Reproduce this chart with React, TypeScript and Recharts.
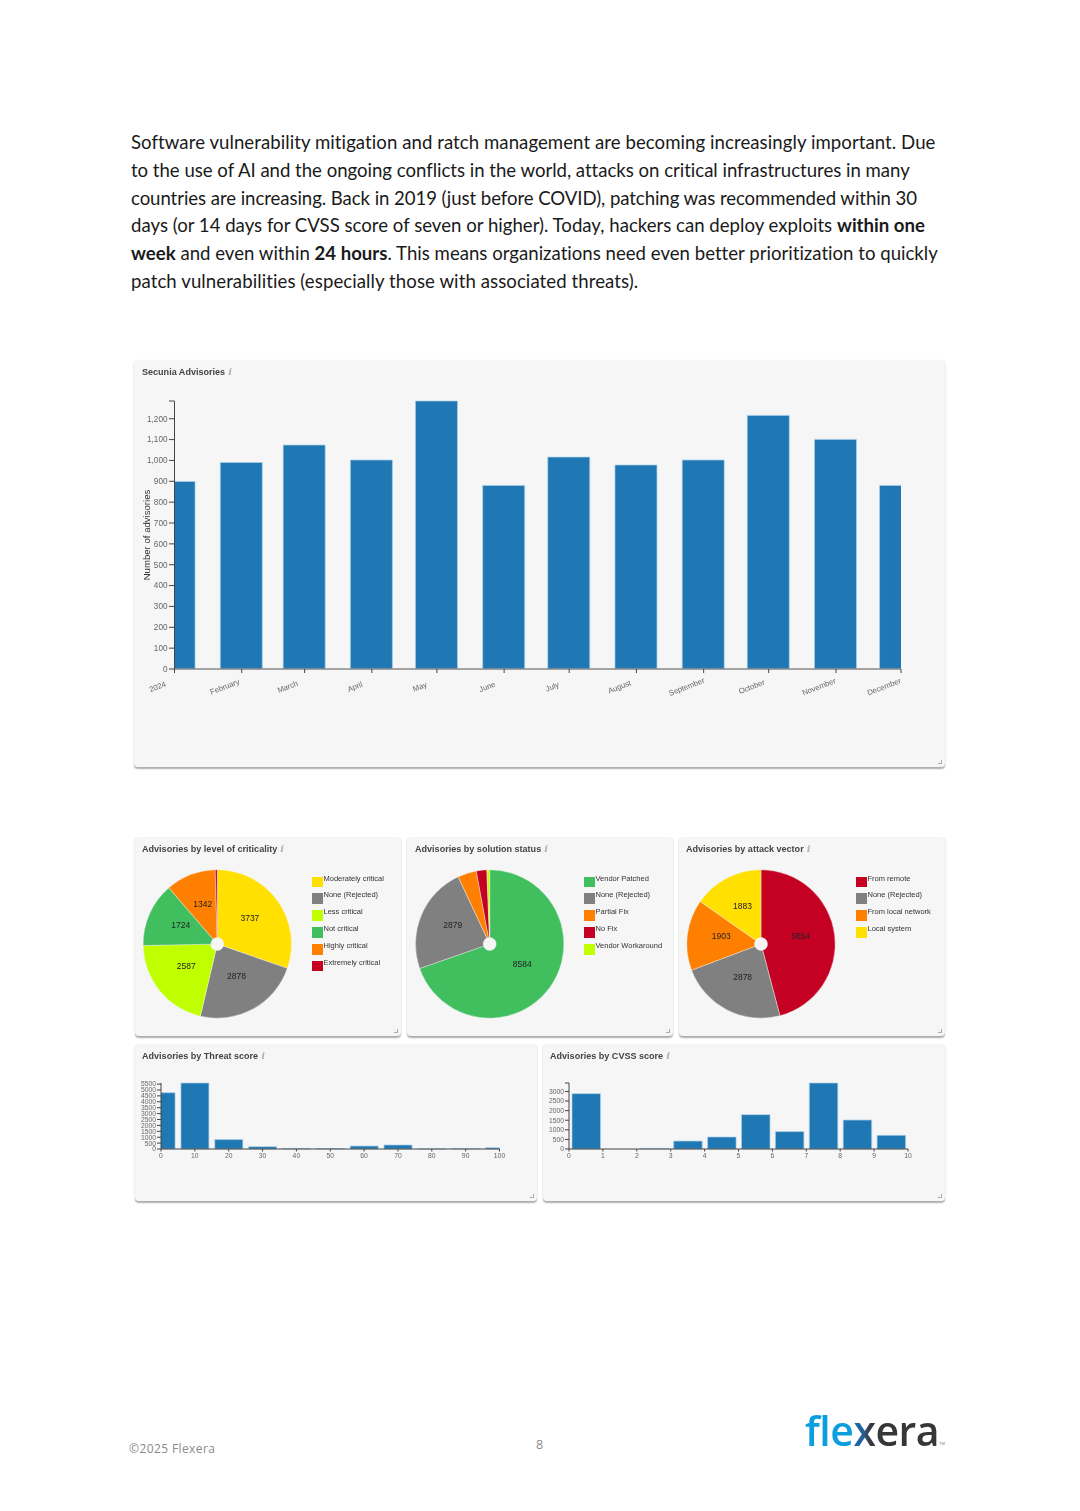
import React from "react";
import { BarChart, Bar, XAxis, YAxis, PieChart, Pie, Legend, Label } from "recharts";

const monthLabels = ["2024","February","March","April","May","June","July","August","September","October","November","December"];
const monthDays = [0,31,60,91,121,152,182,213,244,274,305,335];
const monthValues = [899,990,1074,1002,1285,880,1016,978,1002,1216,1101,880];
const monthTicks = [0,100,200,300,400,500,600,700,800,900,1000,1100,1200,1285];

const criticalityNames = ["Moderately critical","None (Rejected)","Less critical","Not critical","Highly critical","Extremely critical"];
const criticalityValues = [3737,2878,2587,1724,1342,55];
const criticalityColors = ["#ffe000","#808080","#bfff00","#41bf5f","#ff8000","#c40023"];

const solutionNames = ["Vendor Patched","None (Rejected)","Partial Fix","No Fix","Vendor Workaround"];
const solutionValues = [8584,2879,505,280,76];
const solutionColors = ["#41bf5f","#808080","#ff8000","#c40023","#bfff00"];

const vectorNames = ["From remote","None (Rejected)","From local network","Local system"];
const vectorValues = [5654,2878,1903,1883];
const vectorColors = ["#c40023","#808080","#ff8000","#ffe000"];

const threatBins = [0,10,20,30,40,50,60,70,80,90,100];
const threatValues = [4765,5590,795,200,50,40,250,340,10,30,110];
const threatTicks = [0,500,1000,1500,2000,2500,3000,3500,4000,4500,5000,5500];

const cvssBins = [0.5,1.5,2.5,3.5,4.5,5.5,6.5,7.5,8.5,9.5];
const cvssValues = [2885,0,30,415,625,1790,906,3440,1510,713];
const cvssTicks = [0,500,1000,1500,2000,2500,3000,3440];
const cvssXTicks = [0,1,2,3,4,5,6,7,8,9,10];

const paragraphLines: [string, boolean][][] = [
  [["Software vulnerability mitigation and ratch management are becoming increasingly important. Due", false]],
  [["to the use of AI and the ongoing conflicts in the world, attacks on critical infrastructures in many", false]],
  [["countries are increasing. Back in 2019 (just before COVID), patching was recommended within 30", false]],
  [["days (or 14 days for CVSS score of seven or higher). Today, hackers can deploy exploits ", false], ["within one", true]],
  [["week", true], [" and even within ", false], ["24 hours", true], [". This means organizations need even better prioritization to quickly", false]],
  [["patch vulnerabilities (especially those with associated threats).", false]],
];
const paragraphTops = [130.5, 158.5, 186.5, 213.5, 241.5, 269.5];
const paragraphTracking = [0.065, -0.02, -0.065, 0.01, 0.01, 0.08];

const SANS = "'Liberation Sans', Arial, sans-serif";
const PANEL_BG = "#f6f6f6";
const BAR = "#1f77b4";
const BAR_EDGE = "#a9cfe8";
const SOFT = "blur(0.3px)";

function Panel({ left, top, width, height, title, titleLeft = 7, children }: any) {
  return (
    <div style={{ position: "absolute", left, top, width, height, background: PANEL_BG, borderRadius: 4, boxShadow: "0 1.5px 1.5px rgba(0,0,0,0.32)" }}>
      <div style={{ position: "absolute", left: titleLeft, top: 6, fontFamily: SANS, fontSize: 9.05, fontWeight: 700, color: "#444", whiteSpace: "nowrap", lineHeight: "11px", filter: SOFT }}>
        {title}
        <span style={{ color: "#b5b5b5", fontStyle: "italic", fontSize: 10, marginLeft: 3, fontFamily: "'DejaVu Serif', serif" }}>i</span>
      </div>
      <div style={{ position: "absolute", left: 0, top: 0, filter: SOFT }}>{children}</div>
      <div style={{ position: "absolute", right: 3, bottom: 3, width: 3, height: 3, borderRight: "1px solid #aaa", borderBottom: "1px solid #aaa" }} />
    </div>
  );
}

function pieTable(names: string[], values: number[], colors: string[]) {
  return names.map((name, i) => ({ name, value: values[i], fill: colors[i] }));
}

const RAD = Math.PI / 180;
function sliceLabel(p: any) {
  if (p.value < 1000) return null;
  const r = 40;
  const x = p.cx + r * Math.cos(-p.midAngle * RAD);
  const y = p.cy + r * Math.sin(-p.midAngle * RAD);
  return (
    <text x={x} y={y} textAnchor="middle" fontFamily={SANS} fontSize={8.5} fill="#222">
      {p.value}
    </text>
  );
}

function legendContent({ payload }: any) {
  return (
    <div>
      {(payload || []).map((it: any) => (
        <div key={it.value} style={{ position: "relative", height: 16.9, fontFamily: SANS, fontSize: 7.5, color: "#333", whiteSpace: "nowrap" }}>
          <span style={{ position: "absolute", left: 0, top: 1.5, width: 10.5, height: 10.5, background: it.color }} />
          <span style={{ position: "absolute", left: 11.5, top: -1.5, lineHeight: "9px" }}>{it.value}</span>
        </div>
      ))}
    </div>
  );
}

function PieBlock({ left, title, titleLeft, data, cx }: any) {
  return (
    <Panel left={left} top={837} width={266} height={199} title={title} titleLeft={titleLeft}>
      <PieChart width={266} height={199} margin={{ top: 0, right: 0, bottom: 0, left: 0 }}>
        <Pie
          data={data}
          dataKey="value"
          nameKey="name"
          cx={cx}
          cy={107}
          outerRadius={74.2}
          innerRadius={6.5}
          startAngle={90}
          endAngle={-270}
          stroke="#f6f6f6"
          strokeWidth={0.4}
          label={sliceLabel}
          labelLine={false}
          isAnimationActive={false}
        />
        <Legend content={legendContent} itemSorter={null} layout="vertical" wrapperStyle={{ position: "absolute", left: 177, top: 38, width: 85, height: 110 }} />
      </PieChart>
    </Panel>
  );
}

const monthRows = monthLabels.map((m, i) => ({ day: monthDays[i], value: monthValues[i] }));
const threatRows = threatBins.map((b, i) => ({ bin: b, value: threatValues[i] }));
const cvssRows = cvssBins.map((b, i) => ({ bin: b, value: cvssValues[i] }));

const axisLine = { stroke: "#444", strokeWidth: 1 };
const tickLine = { stroke: "#444", strokeWidth: 1 };

function MonthTick({ x, y, payload }: any) {
  const tx = x - 16;
  const ty = y + 13.2;
  return (
    <text x={tx} y={ty} textAnchor="middle" transform={`rotate(-21 ${tx} ${ty})`} fontFamily={SANS} fontSize={7.7} fill="#666">
      {monthLabels[monthDays.indexOf(payload.value)]}
    </text>
  );
}

function SmallBars({ left, title, titleLeft, rows, xDomain, xTicks, yTicks, yMax, barSize, plotLeft, plotWidth }: any) {
  return (
    <Panel left={left} top={1044} width={402} height={157} title={title} titleLeft={titleLeft}>
      <BarChart
        width={402}
        height={157}
        data={rows}
        margin={{ top: 39, left: plotLeft - 25, right: 402 - plotLeft - plotWidth, bottom: 157 - 105 - 20 }}
      >
        <XAxis dataKey="bin" type="number" domain={xDomain} ticks={xTicks} interval={0} allowDataOverflow height={20} tick={{ fontSize: 6.8, fill: "#666", fontFamily: SANS }} tickSize={2.5} tickMargin={2} axisLine={axisLine} tickLine={tickLine} />
        <YAxis width={25} type="number" domain={[0, yMax]} ticks={yTicks} interval={0} tickFormatter={(v: number) => (v === yMax ? "" : String(v))} tick={{ fontSize: 6.8, fill: "#666", fontFamily: SANS }} tickSize={4} tickMargin={1} axisLine={axisLine} tickLine={tickLine} />
        <Bar dataKey="value" barSize={barSize} fill={BAR} stroke={BAR_EDGE} strokeWidth={0.7} isAnimationActive={false} />
      </BarChart>
    </Panel>
  );
}

export default function App() {
  return (
    <div style={{ position: "absolute", left: 0, top: 0, width: 1080, height: 1511, background: "#fff", overflow: "hidden" }}>
      {paragraphLines.map((segs, i) => (
        <div key={i} style={{ position: "absolute", left: 131, top: paragraphTops[i], fontFamily: "Lato, sans-serif", fontSize: 18.6, lineHeight: "22px", color: "#1a1a1a", whiteSpace: "nowrap", fontVariantLigatures: "none", letterSpacing: paragraphTracking[i] }}>
          {segs.map(([t, b], j) => (
            <span key={j} style={{ fontWeight: b ? 700 : 400 }}>{t}</span>
          ))}
        </div>
      ))}

      <Panel left={134} top={360} width={811} height={407} title="Secunia Advisories" titleLeft={8}>
        <BarChart width={811} height={407} data={monthRows} margin={{ top: 41, left: 10.5, right: 44, bottom: 58 }}>
          <XAxis
            dataKey="day"
            type="number"
            domain={[0, 335]}
            ticks={monthDays}
            interval={0}
            allowDataOverflow
            height={40}
            tick={MonthTick}
            tickSize={4}
            tickMargin={3}
            axisLine={{ stroke: "#888", strokeWidth: 1.6 }}
            tickLine={tickLine}
          />
          <YAxis
            width={30}
            type="number"
            domain={[0, 1285]}
            ticks={monthTicks}
            interval={0}
            tickFormatter={(v: number) => (v === 1285 ? "" : v.toLocaleString("en-US"))}
            tick={{ fontSize: 8.2, fill: "#666", fontFamily: SANS }}
            tickSize={5.5}
            tickMargin={1.5}
            axisLine={axisLine}
            tickLine={tickLine}
          >
            <Label value="Number of advisories" angle={-90} position="insideLeft" offset={2} style={{ textAnchor: "middle", fontSize: 9.6, fontFamily: SANS, fill: "#333" }} />
          </YAxis>
          <Bar dataKey="value" barSize={42} fill={BAR} stroke={BAR_EDGE} strokeWidth={0.7} isAnimationActive={false} />
        </BarChart>
      </Panel>

      <PieBlock left={135} title="Advisories by level of criticality" titleLeft={7} data={pieTable(criticalityNames, criticalityValues, criticalityColors)} cx={82.3} />
      <PieBlock left={407} title="Advisories by solution status" titleLeft={8} data={pieTable(solutionNames, solutionValues, solutionColors)} cx={82.7} />
      <PieBlock left={679} title="Advisories by attack vector" titleLeft={7} data={pieTable(vectorNames, vectorValues, vectorColors)} cx={82} />

      <SmallBars left={135} title="Advisories by Threat score" titleLeft={7} rows={threatRows} xDomain={[0, 100]} xTicks={threatBins} yTicks={threatTicks} yMax={5590} barSize={28} plotLeft={26} plotWidth={338.5} />
      <SmallBars left={543} title="Advisories by CVSS score" titleLeft={7} rows={cvssRows} xDomain={[0, 10]} xTicks={cvssXTicks} yTicks={cvssTicks} yMax={3440} barSize={28.5} plotLeft={26} plotWidth={339} />

      <div style={{ position: "absolute", left: 129, top: 1440, fontFamily: "'Open Sans', sans-serif", fontSize: 12, color: "#8a8a8a", letterSpacing: 0.4 }}>©2025 Flexera</div>
      <div style={{ position: "absolute", left: 536, top: 1436, fontFamily: "'Open Sans', sans-serif", fontSize: 12.5, color: "#8a8a8a" }}>8</div>
      <div style={{ position: "absolute", left: 805, top: 1404, fontFamily: "'Open Sans', sans-serif", fontSize: 41, fontWeight: 600, lineHeight: "52px", letterSpacing: -0.5, whiteSpace: "nowrap", filter: SOFT }}>
        <span style={{ color: "#0c9fe0" }}>fle</span>
        <span style={{ backgroundImage: "linear-gradient(90deg, #0f6cb5 0%, #2a5f96 45%, #37373a 80%)", WebkitBackgroundClip: "text", backgroundClip: "text", color: "transparent" }}>x</span>
        <span style={{ color: "#37373a" }}>era</span>
      </div>
      <div style={{ position: "absolute", left: 939, top: 1441, fontFamily: SANS, fontSize: 4, color: "#777" }}>TM</div>
    </div>
  );
}
